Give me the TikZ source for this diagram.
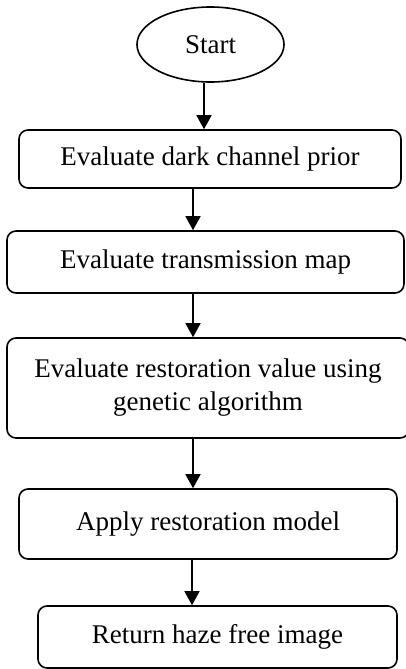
\documentclass[tikz,border=0pt]{standalone}
\usepackage{fontspec}
\setmainfont{Liberation Serif}
\usetikzlibrary{arrows.meta,positioning,shapes.geometric}

\begin{document}
\begin{tikzpicture}[
        x=1pt, y=-1pt,
        startnode/.style={
            draw=black,
            ellipse,
            line width=1.6pt,
            minimum width=147pt,
            minimum height=75pt,
            inner sep=0pt,
            font=\fontsize{27}{33}\selectfont
        },
        stepbox/.style={
            draw=black,
            line width=1.6pt,
            rounded corners=9pt,
            inner sep=0pt,
            align=center,
            font=\fontsize{27}{33}\selectfont
        },
        flow/.style={
            -{Triangle[length=14pt,width=15pt]},
            line width=1.6pt
        }
    ]

    \useasboundingbox (0,0) rectangle (406,669);

    \def\ax{193}

    \node[startnode] (start) at (210.5,44.5) {Start};

    \node[stepbox, minimum width=382pt, minimum height=58pt] (dark) at (210,159) {Evaluate dark channel prior};
    \node[stepbox, minimum width=397pt, minimum height=62pt] (trans) at (205.5,262) {Evaluate transmission map};
    \node[stepbox, minimum width=402pt, minimum height=100pt] (genetic) at (208,388) {Evaluate restoration value using\\genetic algorithm};
    \node[stepbox, minimum width=378pt, minimum height=70pt] (model) at (208,524) {Apply restoration model};
    \node[stepbox, minimum width=359pt, minimum height=62pt] (haze) at (217.5,637) {Return haze free image};

    \draw[flow] (start.south -| 204,0) -- (dark.north -| 204,0);
    \foreach \a/\b in {dark/trans, trans/genetic, genetic/model}{
        \draw[flow] (\a.south -| \ax,0) -- (\b.north -| \ax,0);
    }
    \draw[flow] (model.south -| 192,0) -- (haze.north -| 192,0);

\end{tikzpicture}
\end{document}
